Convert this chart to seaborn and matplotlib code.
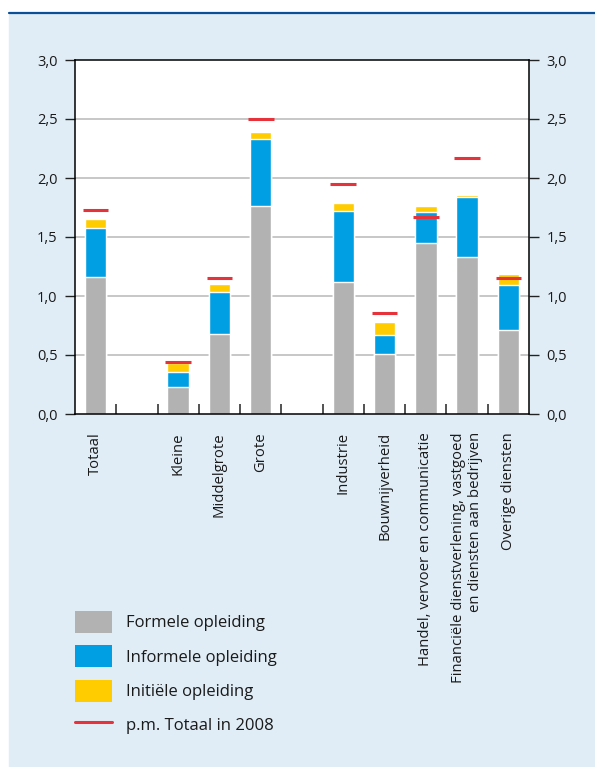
import seaborn as sns
import pandas as pd
import matplotlib.pyplot as plt
from matplotlib.patches import Patch, Rectangle
from matplotlib.lines import Line2D
from matplotlib.ticker import FuncFormatter, FixedLocator

# slots on the x axis, gaps included
order = ['Totaal', 'gap1', 'Kleine', 'Middelgrote', 'Grote', 'gap2',
         'Industrie', 'Bouwnijverheid', 'Handel', 'Financieel', 'Overige']
labels = ['Totaal', '', 'Kleine', 'Middelgrote', 'Grote', '',
          'Industrie', 'Bouwnijverheid', 'Handel, vervoer en communicatie',
          'Financiële dienstverlening, vastgoed\nen diensten aan bedrijven',
          'Overige diensten']

categorie = ['Totaal', 'Kleine', 'Middelgrote', 'Grote', 'Industrie',
             'Bouwnijverheid', 'Handel', 'Financieel', 'Overige']
formeel = [1.16, 0.23, 0.68, 1.76, 1.12, 0.51, 1.45, 1.33, 0.71]
informeel = [0.42, 0.13, 0.35, 0.57, 0.60, 0.16, 0.26, 0.51, 0.38]
initieel = [0.07, 0.07, 0.07, 0.06, 0.07, 0.11, 0.05, 0.02, 0.10]
totaal_2008 = [1.73, 0.44, 1.15, 2.50, 1.95, 0.86, 1.67, 2.17, 1.15]

df = pd.DataFrame({'categorie': categorie, 'formeel': formeel,
                   'informeel': informeel, 'initieel': initieel,
                   'totaal_2008': totaal_2008})
df['top_informeel'] = df['formeel'] + df['informeel']
df['top_initieel'] = df['top_informeel'] + df['initieel']

grey = '#b2b2b2'
blue = '#009fe3'
yellow = '#ffcc00'
red = '#e5323b'
panel = '#e0edf6'

sns.set_theme(style='white')
plt.rcParams['font.family'] = ['Open Sans', 'DejaVu Sans']

fig = plt.figure(figsize=(5.95, 7.67), dpi=100, facecolor='white')
# light blue panel + dark blue top rule
fig.patches.append(Rectangle((9 / 595, 0), 1, (767 - 14) / 767,
                             transform=fig.transFigure, color=panel,
                             zorder=-10))
fig.add_artist(Line2D([9 / 595, 1], [(767 - 13) / 767] * 2,
                      transform=fig.transFigure, color='#0b4f99', lw=1.6,
                      zorder=-5))

ax = fig.add_axes([75 / 595, (767 - 414) / 767, 454 / 595, 354 / 767])
ax.set_facecolor('white')

for y in [0.5, 1.0, 1.5, 2.0, 2.5]:
    ax.axhline(y, color='#bdbdbd', lw=1.2, zorder=0)

# stacked bars: draw the cumulative totals from the top down
sns.barplot(data=df, x='categorie', y='top_initieel', order=order,
            color=yellow, width=0.52, saturation=1, ax=ax, zorder=2)
sns.barplot(data=df, x='categorie', y='top_informeel', order=order,
            color=blue, width=0.52, saturation=1, ax=ax, zorder=2)
sns.barplot(data=df, x='categorie', y='formeel', order=order,
            color=grey, width=0.52, saturation=1, ax=ax, zorder=2)

pos = [order.index(c) for c in categorie]
ax.hlines(totaal_2008, [p - 0.31 for p in pos], [p + 0.31 for p in pos],
          color=red, lw=2.2, zorder=3)

ax.set_ylim(0, 3.0)
ax.set_xlim(-0.5, len(order) - 0.5)
ax.set_yticks([0, 0.5, 1.0, 1.5, 2.0, 2.5, 3.0])
ax.yaxis.set_major_formatter(FuncFormatter(
    lambda v, p: f'{v:.1f}'.replace('.', ',')))
ax.set_xticks(range(len(order)))
ax.set_xticklabels(labels, rotation=90, va='top', ha='center',
                   multialignment='right', fontsize=10.7, color='#1a1a1a')
ax.xaxis.set_minor_locator(FixedLocator([i + 0.5 for i in range(10)]))
ax.tick_params(axis='x', which='major', length=0, pad=13)
ax.tick_params(axis='x', which='minor', bottom=True, direction='in',
               length=7.5, width=1.3, color='#444444')
ax.tick_params(axis='y', which='major', left=True, right=True,
               labelleft=True, labelright=True, direction='out', length=7.5,
               width=1.0, color='#222222', labelsize=10.5, pad=5,
               labelcolor='#1a1a1a')
ax.set_xlabel('')
ax.set_ylabel('')
for s in ax.spines.values():
    s.set_visible(True)
    s.set_color('black')
    s.set_linewidth(1.1)

handles = [Patch(facecolor=grey, edgecolor='none'),
           Patch(facecolor=blue, edgecolor='none'),
           Patch(facecolor=yellow, edgecolor='none'),
           Line2D([], [], color=red, lw=2.2)]
names = ['Formele opleiding', 'Informele opleiding', 'Initiële opleiding',
         'p.m. Totaal in 2008']
fig.legend(handles, names, loc='upper left',
           bbox_to_anchor=(75 / 595, (767 - 611) / 767), frameon=False,
           fontsize=12, handlelength=2.2, handleheight=1.65,
           handletextpad=0.85, labelspacing=0.74, borderpad=0,
           borderaxespad=0, labelcolor='#1a1a1a')

fig.savefig('out.png', dpi=100, facecolor='white')
